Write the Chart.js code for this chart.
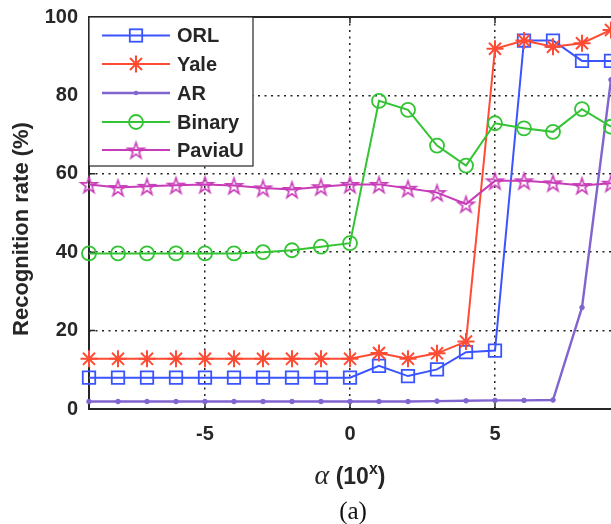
<!DOCTYPE html>
<html>
<head>
<meta charset="utf-8">
<script src="https://cdn.jsdelivr.net/npm/chart.js@4.4.0/dist/chart.umd.min.js"></script>
<style>
  body { margin: 0; background: #fff; }
  #wrap { width: 611px; height: 524px; }
</style>
</head>
<body>
<div id="wrap"><canvas id="rateChart" width="611" height="524"></canvas></div>
<script>
// --- Data ---
const alphaExp = [-9, -8, -7, -6, -5, -4, -3, -2, -1, 0, 1, 2, 3, 4, 5, 6, 7, 8, 9];
const orlRate = [8, 8, 8, 8, 8, 8, 8, 8, 8, 8, 11.0, 8.4, 10.1, 14.5, 14.9, 94.0, 94.0, 88.8, 88.8];
const yaleRate = [12.8, 12.8, 12.8, 12.8, 12.8, 12.8, 12.8, 12.8, 12.8, 12.8, 14.3, 12.8, 14.2, 17.2, 91.9, 94.0, 92.4, 93.3, 96.7];
const arRate = [1.9, 1.9, 1.9, 1.9, 1.9, 1.9, 1.9, 1.9, 1.9, 1.9, 1.9, 1.9, 2.0, 2.1, 2.2, 2.2, 2.3, 25.9, 84];
const binaryRate = [39.7, 39.7, 39.7, 39.7, 39.7, 39.7, 40.0, 40.5, 41.4, 42.3, 78.6, 76.3, 67.2, 62.1, 72.9, 71.6, 70.7, 76.5, 72.0];
const paviaRate = [57.3, 56.5, 56.8, 57.1, 57.3, 57.0, 56.4, 56.0, 56.7, 57.3, 57.3, 56.3, 55.2, 52.3, 58.2, 58.2, 57.7, 57.0, 57.6];
const xTicks = [-5, 0, 5];
const yTicks = [0, 20, 40, 60, 80, 100];
const seriesNames = ['ORL', 'Yale', 'AR', 'Binary', 'PaviaU'];

const COLORS = {
    orl: '#3a55ff',
    yale: '#ff4b33',
    ar: '#8064d0',
    binary: '#33c433',
    pavia: '#c83cb8'
};
const AXIS = '#262626';
const SANS = "'Liberation Sans', Arial, sans-serif";
const SERIF = "'Liberation Serif', 'Times New Roman', serif";

// MATLAB-style pentagram marker as an image point style
function makePentagram(color, r, lw) {
    const c = document.createElement('canvas');
    const s = Math.ceil(2 * (r + lw) + 2);
    c.width = s; c.height = s;
    const g = c.getContext('2d');
    g.translate(s / 2, s / 2 + 1);
    traceStar(g, r);
    g.strokeStyle = color;
    g.lineWidth = lw;
    g.lineJoin = 'miter';
    g.stroke();
    return c;
}
function traceStar(g, r) {
    const ri = r * 0.382;
    g.beginPath();
    for (let i = 0; i < 10; i++) {
        const rad = (i % 2 === 0) ? r : ri;
        const a = -Math.PI / 2 + i * Math.PI / 5;
        const px = Math.cos(a) * rad, py = Math.sin(a) * rad;
        if (i === 0) g.moveTo(px, py); else g.lineTo(px, py);
    }
    g.closePath();
}
const pentaImg = makePentagram(COLORS.pavia, 8.5, 1.6);

function toPoints(ys) {
    return alphaExp.map((x, i) => ({ x: x, y: ys[i] }));
}

const datasets = [
    { label: seriesNames[0], data: toPoints(orlRate), borderColor: COLORS.orl, pointStyle: 'rect', pointRadius: 8.8, pointBorderWidth: 1.8, order: 5 },
    { label: seriesNames[1], data: toPoints(yaleRate), borderColor: COLORS.yale, pointStyle: 'star', pointRadius: 8.5, pointBorderWidth: 2, order: 4 },
    { label: seriesNames[2], data: toPoints(arRate), borderColor: COLORS.ar, pointStyle: 'circle', pointRadius: 2.3, pointBorderWidth: 1, pointBackgroundColor: COLORS.ar, borderWidth: 2.4, order: 3 },
    { label: seriesNames[3], data: toPoints(binaryRate), borderColor: COLORS.binary, pointStyle: 'circle', pointRadius: 7, pointBorderWidth: 1.8, order: 2 },
    { label: seriesNames[4], data: toPoints(paviaRate), borderColor: COLORS.pavia, pointStyle: pentaImg, pointRadius: 9, order: 1 }
].map(ds => Object.assign({
    borderWidth: 2,
    pointBackgroundColor: 'rgba(0,0,0,0)',
    pointBorderColor: ds.borderColor,
    tension: 0,
    clip: false
}, ds));

// --- Frame, inward ticks (drawn under the data) ---
const framePlugin = {
    id: 'frame',
    beforeDatasetsDraw(chart) {
        const { ctx, chartArea: a, scales } = chart;
        ctx.save();
        ctx.strokeStyle = AXIS;
        ctx.lineWidth = 2;
        ctx.beginPath();
        ctx.moveTo(a.right + 2, a.top); ctx.lineTo(a.left, a.top);
        ctx.lineTo(a.left, a.bottom); ctx.lineTo(a.right + 2, a.bottom);
        ctx.stroke();
        ctx.lineWidth = 1.5;
        ctx.beginPath();
        xTicks.forEach(v => {
            const px = scales.x.getPixelForValue(v);
            ctx.moveTo(px, a.bottom); ctx.lineTo(px, a.bottom - 6);
            ctx.moveTo(px, a.top); ctx.lineTo(px, a.top + 6);
        });
        yTicks.slice(1, -1).forEach(v => {
            const py = scales.y.getPixelForValue(v);
            ctx.moveTo(a.left, py); ctx.lineTo(a.left + 6, py);
        });
        ctx.stroke();
        ctx.restore();
    }
};

// --- Boxed legend + axis titles + caption ---
function drawMarker(ctx, kind, x, y) {
    ctx.save();
    ctx.lineWidth = 1.8;
    if (kind === 0) {
        ctx.strokeStyle = COLORS.orl;
        ctx.strokeRect(x - 6.2, y - 6.2, 12.4, 12.4);
    } else if (kind === 1) {
        ctx.strokeStyle = COLORS.yale;
        ctx.lineWidth = 2;
        ctx.beginPath();
        for (let i = 0; i < 4; i++) {
            const ang = i * Math.PI / 4;
            ctx.moveTo(x - Math.cos(ang) * 8.5, y - Math.sin(ang) * 8.5);
            ctx.lineTo(x + Math.cos(ang) * 8.5, y + Math.sin(ang) * 8.5);
        }
        ctx.stroke();
    } else if (kind === 2) {
        ctx.fillStyle = COLORS.ar;
        ctx.beginPath(); ctx.arc(x, y, 2.3, 0, Math.PI * 2); ctx.fill();
    } else if (kind === 3) {
        ctx.strokeStyle = COLORS.binary;
        ctx.beginPath(); ctx.arc(x, y, 7, 0, Math.PI * 2); ctx.stroke();
    } else {
        ctx.drawImage(pentaImg, x - pentaImg.width / 2, y - pentaImg.height / 2);
    }
    ctx.restore();
}

const annotPlugin = {
    id: 'annot',
    afterDatasetsDraw(chart) {
        const ctx = chart.ctx;
        const a = chart.chartArea;
        const lineColors = [COLORS.orl, COLORS.yale, COLORS.ar, COLORS.binary, COLORS.pavia];
        const rowsY = [35.5, 64, 93, 122, 150];

        ctx.save();
        // legend box
        ctx.fillStyle = '#fff';
        ctx.fillRect(a.left, a.top, 164, 149);
        ctx.strokeStyle = AXIS;
        ctx.lineWidth = 1.2;
        ctx.strokeRect(a.left, a.top, 164, 149);

        seriesNames.forEach((name, i) => {
            const y = rowsY[i];
            ctx.strokeStyle = lineColors[i];
            ctx.lineWidth = i === 2 ? 2.4 : 2;
            ctx.beginPath(); ctx.moveTo(102, y); ctx.lineTo(170, y); ctx.stroke();
            drawMarker(ctx, i, 136, y);
            ctx.fillStyle = AXIS;
            ctx.font = 'bold 20px ' + SANS;
            ctx.textAlign = 'left';
            ctx.textBaseline = 'middle';
            ctx.fillText(name, 177, y + 1);
        });

        // y title
        ctx.save();
        ctx.translate(22, 229);
        ctx.rotate(-Math.PI / 2);
        ctx.font = 'bold 22px ' + SANS;
        ctx.textAlign = 'center';
        ctx.textBaseline = 'middle';
        ctx.fillStyle = AXIS;
        ctx.fillText('Recognition rate (%)', 0, 0);
        ctx.restore();

        // x title: alpha (10^x)
        const base = 484;
        const parts = [
            { t: 'α', f: 'italic 28px ' + SERIF, dy: 0 },
            { t: ' (10', f: 'bold 23px ' + SANS, dy: 0 },
            { t: 'x', f: 'bold 16px ' + SANS, dy: -10 },
            { t: ')', f: 'bold 23px ' + SANS, dy: 0 }
        ];
        let total = 0;
        parts.forEach(p => { ctx.font = p.f; p.w = ctx.measureText(p.t).width; total += p.w; });
        let cx = 350 - total / 2;
        ctx.textAlign = 'left';
        ctx.textBaseline = 'alphabetic';
        ctx.fillStyle = AXIS;
        parts.forEach(p => { ctx.font = p.f; ctx.fillText(p.t, cx, base + p.dy); cx += p.w; });

        // caption
        ctx.font = '25px ' + SERIF;
        ctx.textAlign = 'center';
        ctx.fillStyle = '#111';
        ctx.fillText('(a)', 353, 519);
        ctx.restore();
    }
};

new Chart(document.getElementById('rateChart'), {
    type: 'line',
    data: { datasets: datasets },
    options: {
        responsive: false,
        animation: false,
        events: [],
        layout: { autoPadding: false, padding: { top: 17, right: 0, left: 0, bottom: 0 } },
        plugins: {
            legend: { display: false },
            tooltip: { enabled: false }
        },
        scales: {
            x: {
                type: 'linear',
                min: -9,
                max: 9,
                afterBuildTicks: scale => { scale.ticks = xTicks.map(v => ({ value: v })); },
                afterFit: scale => {
                    scale.height = 115;
                    scale.paddingLeft = 0;
                    scale.paddingRight = 0;
                },
                ticks: {
                    color: AXIS,
                    font: { family: SANS, size: 20, weight: 'bold' },
                    padding: 13,
                    maxRotation: 0
                },
                grid: { color: '#222', lineWidth: 1.5, drawTicks: false },
                border: { display: false, dash: [2, 4.5] }
            },
            y: {
                min: 0,
                max: 100,
                afterBuildTicks: scale => { scale.ticks = yTicks.map(v => ({ value: v })); },
                afterFit: scale => {
                    scale.width = 89;
                    scale.paddingTop = 0;
                    scale.paddingBottom = 0;
                },
                ticks: {
                    color: AXIS,
                    font: { family: SANS, size: 20, weight: 'bold' },
                    padding: 11
                },
                grid: {
                    color: ctx => (ctx.tick && (ctx.tick.value === 0 || ctx.tick.value === 100)) ? 'rgba(0,0,0,0)' : '#222',
                    lineWidth: 1.5,
                    drawTicks: false
                },
                border: { display: false, dash: [2, 4.5] }
            }
        }
    },
    plugins: [framePlugin, annotPlugin]
});
</script>
</body>
</html>
